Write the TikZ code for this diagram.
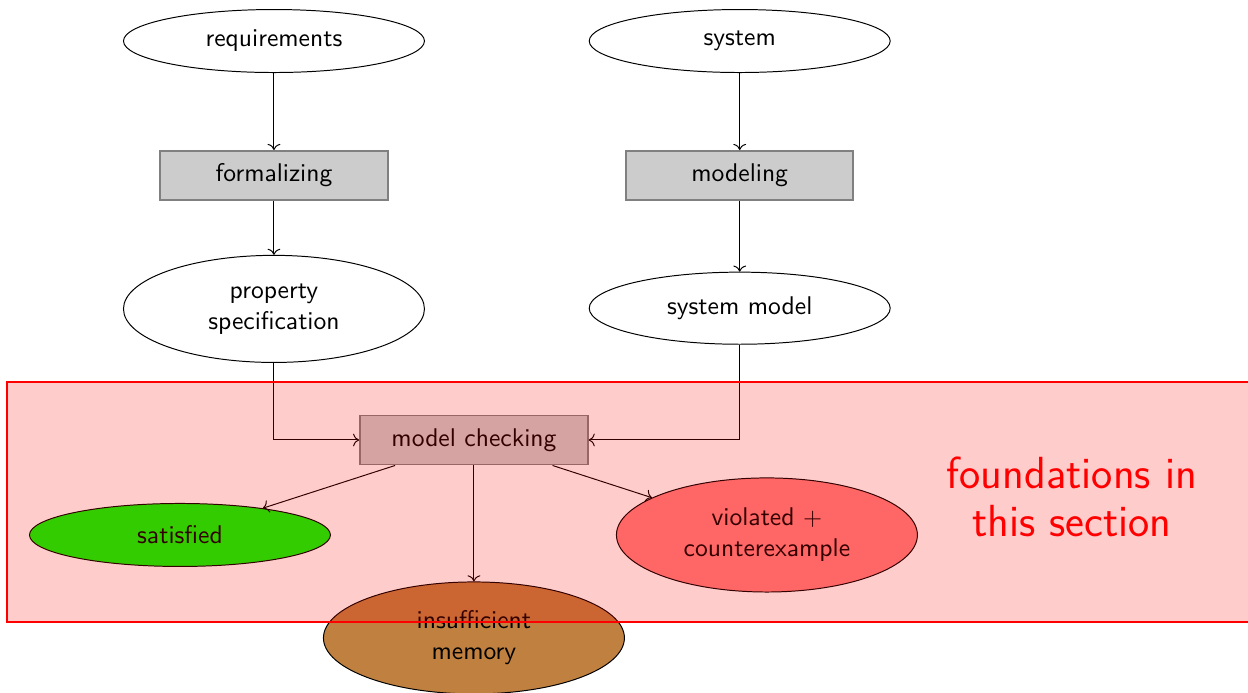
\documentclass[tikz,border=0pt]{standalone}
\usepackage{amsmath}
\usepackage{tikz}
\usetikzlibrary{arrows.meta,positioning,shapes.geometric}

\begin{document}
\begin{tikzpicture}[
    font=\sffamily\fontsize{10.4}{12.6}\selectfont,
    data/.style={draw, ellipse, align=center, minimum width=4.3cm, minimum height=0.9cm},
    proc/.style={draw=gray, thick, fill=gray!40, align=center, minimum width=3.25cm, minimum height=0.7cm},
    arr/.style={->}
]
\useasboundingbox (0,0) rectangle (17.83,-9.9);
\node[data] (req) at (3.914,-0.586) {requirements};
\node[data, right=2.34cm of req] (sys) {system};
\node[proc, below=1.1cm of req] (formal) {formalizing};
\node[proc, below=1.1cm of sys] (modl) {modeling};
\node[data, minimum height=1.53cm, below=0.77cm of formal] (prop) {property\\specification};
\node[data, minimum height=1.03cm, below=1.01cm of modl] (sysmodel) {system model};
\node[proc] (mc) at (6.771,-6.286) {model checking};
\node[data, fill=green] (sat) at (2.571,-7.643) {satisfied};
\node[data, fill=red!50, minimum height=1.63cm] (viol) at (10.957,-7.643) {violated $+$\\counterexample};
\node[data, fill=brown, minimum height=1.6cm] (mem) at (6.771,-9.114) {insufficient\\memory};
\draw[arr] (req) -- (formal);
\draw[arr] (formal) -- (prop);
\draw[arr] (sys) -- (modl);
\draw[arr] (modl) -- (sysmodel);
\draw[arr] (prop) |- (mc);
\draw[arr] (sysmodel) |- (mc);
\foreach \x in {sat,viol,mem}{\draw[arr] (mc) -- (\x);}
% region of this section
\draw[draw=red, semithick, fill=red, fill opacity=0.2] (0.1,-5.457) rectangle (18.1,-8.886);
\node[text=red, font=\sffamily\fontsize{18.3}{19.2}\selectfont, align=center] (found) at (15.314,-7.1) {foundations in\\this section};
\end{tikzpicture}
\end{document}
